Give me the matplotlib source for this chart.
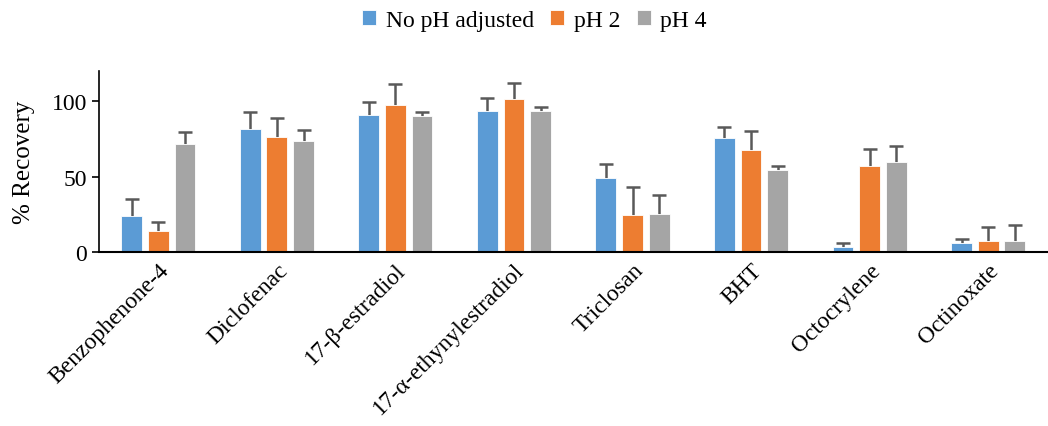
import numpy as np
import matplotlib
matplotlib.use('Agg')
import matplotlib.pyplot as plt

plt.rcParams['font.family'] = ['Liberation Serif', 'DejaVu Serif']

compounds = ['Benzophenone-4', 'Diclofenac', '17-β-estradiol', '17-α-ethynylestradiol',
             'Triclosan', 'BHT', 'Octocrylene', 'Octinoxate']
series = ['No pH adjusted', 'pH 2', 'pH 4']
no_ph = [23.8, 81.7, 90.9, 93.4, 49.4, 75.5, 3.7, 6.2]
no_ph_err = [11.3, 11.4, 8.6, 8.8, 8.9, 7.5, 2.7, 2.8]
ph2 = [14.3, 76.4, 97.7, 101.3, 24.9, 67.7, 57.0, 7.7]
ph2_err = [5.6, 12.7, 13.8, 10.6, 18.1, 12.6, 11.2, 9.3]
ph4 = [71.9, 73.7, 90.5, 93.4, 25.2, 54.3, 59.6, 7.7]
ph4_err = [7.6, 7.3, 2.6, 3.0, 12.5, 2.9, 10.8, 10.2]

colors = ['#5B9BD5', '#ED7D31', '#A5A5A5']

fig = plt.figure(figsize=(10.48, 4.27), dpi=100)
ax = fig.add_axes([0.0945, 0.407, 0.905, 0.424])

x = np.arange(len(compounds))
w = 0.175
off = 0.225
for i, (vals, errs) in enumerate([(no_ph, no_ph_err), (ph2, ph2_err), (ph4, ph4_err)]):
    ax.bar(x + (i - 1) * off, vals, w, color=colors[i], edgecolor='white', linewidth=0.6,
           label=series[i], zorder=2)
    eb = ax.errorbar(x + (i - 1) * off, vals, yerr=[np.zeros(len(errs)), errs], fmt='none',
                     ecolor='#595959', elinewidth=1.8, capsize=5, capthick=1.8, zorder=1)
    eb[1][0].set_visible(False)

ax.set_xlim(-0.5, len(compounds) - 0.5)
ax.set_ylim(0, 120)
ax.set_yticks([0, 50, 100])
ax.set_ylabel('% Recovery', fontsize=18, labelpad=12)
ax.tick_params(axis='y', labelsize=17, direction='out', length=5, width=1.2)
ax.tick_params(axis='x', length=0, labelsize=17, pad=5)
ax.set_xticks(x)
ax.set_xticklabels(compounds, rotation=45, ha='right', rotation_mode='anchor')
for s in ['top', 'right']:
    ax.spines[s].set_visible(False)
ax.spines['left'].set_linewidth(1.2)
ax.spines['bottom'].set_linewidth(1.5)

ax.legend(loc='upper center', bbox_to_anchor=(0.459, 1.39), ncol=3, frameon=False,
          fontsize=17, handlelength=0.6, handleheight=0.6, handletextpad=0.4,
          columnspacing=0.7, borderaxespad=0)

fig.savefig('out.png', dpi=100)
